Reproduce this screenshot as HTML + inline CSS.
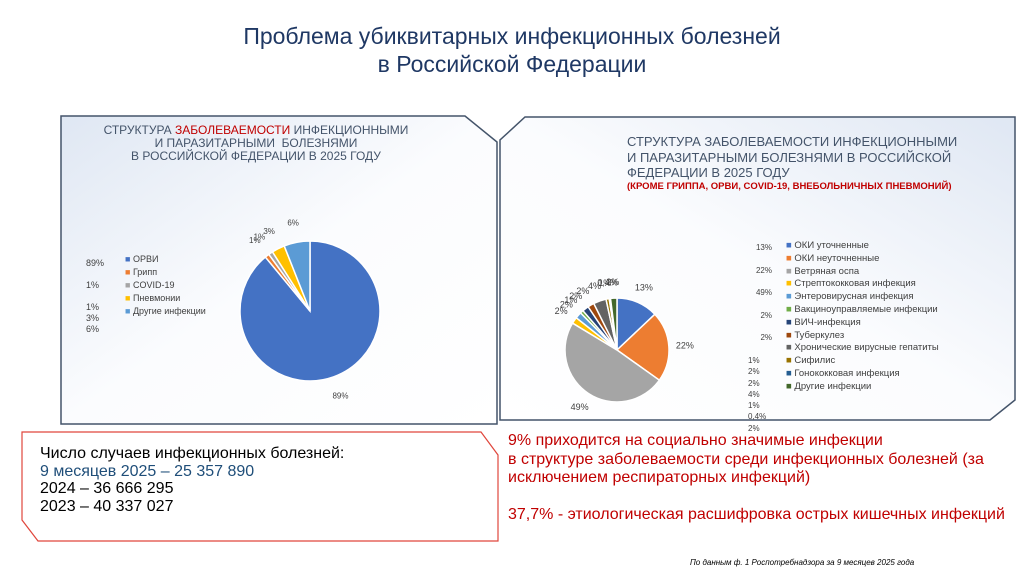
<!DOCTYPE html>
<html><head><meta charset="utf-8"><style>
body{margin:0;width:1024px;height:574px;background:#fff;position:relative;overflow:hidden;font-family:"Liberation Sans","DejaVu Sans",sans-serif}
.abs{position:absolute}
</style></head><body>
<div class="abs" style="left:0;width:1024px;top:22px;text-align:center;color:#1f3864;font-size:23px;line-height:28px">Проблема убиквитарных инфекционных болезней<br>в Российской Федерации</div>
<svg class="abs" style="left:0;top:0" width="1024" height="574">
<defs>
<linearGradient id="g1" x1="0" y1="0" x2="1" y2="1"><stop offset="0" stop-color="#dfe7f3"/><stop offset="0.5" stop-color="#fbfcfe"/><stop offset="1" stop-color="#ffffff"/></linearGradient>
<linearGradient id="g2" x1="1" y1="0" x2="0" y2="1"><stop offset="0" stop-color="#dfe7f3"/><stop offset="0.5" stop-color="#fbfcfe"/><stop offset="1" stop-color="#ffffff"/></linearGradient>
</defs>
<polygon points="61,116 465,116 497,142 497,424 61,424" fill="url(#g1)" stroke="#44546a" stroke-width="1.5"/>
<polygon points="525,117 1015,117 1015,400 990,420 500,420 500,140" fill="url(#g2)" stroke="#44546a" stroke-width="1.5"/>
<polygon points="22,432 481,432 498,455 498,541 38,541 22,520" fill="#fff" stroke="#e0463c" stroke-width="1.2"/>
<g id="pie1"></g><g id="pie2"></g>
</svg>
<div class="abs" style="left:61px;width:390px;top:124px;text-align:center;color:#44546a;font-size:12px;line-height:13px">СТРУКТУРА <span style="color:#c00000">ЗАБОЛЕВАЕМОСТИ</span> ИНФЕКЦИОННЫМИ<br>И ПАРАЗИТАРНЫМИ&nbsp; БОЛЕЗНЯМИ<br>В РОССИЙСКОЙ ФЕДЕРАЦИИ В 2025 ГОДУ</div>
<div class="abs" style="left:627px;top:134px;color:#44546a;font-size:13px;line-height:15.5px">СТРУКТУРА ЗАБОЛЕВАЕМОСТИ ИНФЕКЦИОННЫМИ<br>И ПАРАЗИТАРНЫМИ БОЛЕЗНЯМИ В РОССИЙСКОЙ<br>ФЕДЕРАЦИИ В 2025 ГОДУ<div style="color:#c00000;font-size:9.5px;font-weight:bold;line-height:11px">(КРОМЕ ГРИППА, ОРВИ, COVID-19, ВНЕБОЛЬНИЧНЫХ ПНЕВМОНИЙ)</div></div>
<div class="abs" id="leg1" style="left:85px;top:254px;font-size:9px;color:#404040"></div>
<div class="abs" id="leg2" style="left:740px;top:240px;font-size:9.5px;color:#404040"></div>
<div class="abs" style="left:40px;top:445px;font-size:16px;line-height:17.5px;color:#000">Число случаев инфекционных болезней:<br><span style="color:#1f4e79">9 месяцев 2025 – 25 357 890</span><br>2024 – 36 666 295<br>2023 – 40 337 027</div>
<div class="abs" style="left:508px;top:432px;font-size:16px;line-height:18.5px;color:#c00000;white-space:nowrap">9% приходится на социально значимые инфекции<br>в структуре заболеваемости среди инфекционных болезней (за<br>исключением респираторных инфекций)<br><br>37,7% - этиологическая расшифровка острых кишечных инфекций</div>
<div class="abs" style="left:690px;top:558px;font-size:8px;font-style:italic;color:#000">По данным ф. 1 Роспотребнадзора за 9 месяцев 2025 года</div>
<script>
const cats1=["ОРВИ","Грипп","COVID-19","Пневмонии","Другие инфекции"];
const vals1=[89,1,1,3,6];
const labels1=["89%","1%","1%","3%","6%"];
const cats2=["ОКИ уточненные","ОКИ неуточненные","Ветряная оспа","Стрептококковая инфекция","Энтеровирусная инфекция","Вакциноуправляемые инфекции","ВИЧ-инфекция","Туберкулез","Хронические вирусные гепатиты","Сифилис","Гонококковая инфекция","Другие инфекции"];
const vals2=[13,22,49,2,2,1,2,2,4,1,0.4,2];
const labels2=["13%","22%","49%","2%","2%","1%","2%","2%","4%","1%","0,4%","2%"];
const col1=["#4472c4","#ed7d31","#a5a5a5","#ffc000","#5b9bd5"];
const col2=["#4472c4","#ed7d31","#a5a5a5","#ffc000","#5b9bd5","#70ad47","#264478","#9e480e","#636363","#997300","#255e91","#43682b"];
const NS="http://www.w3.org/2000/svg";
function pie(gid,vals,cols,cx,cy,r,labels,lr,fs){
  const g=document.getElementById(gid);const tot=vals.reduce((a,b)=>a+b,0);let a=0;
  vals.forEach((v,i)=>{
    const a0=a/tot*2*Math.PI,a1=(a+v)/tot*2*Math.PI;a+=v;
    const x0=cx+r*Math.sin(a0),y0=cy-r*Math.cos(a0),x1=cx+r*Math.sin(a1),y1=cy-r*Math.cos(a1);
    const p=document.createElementNS(NS,"path");
    p.setAttribute("d",`M${cx},${cy}L${x0},${y0}A${r},${r} 0 ${a1-a0>Math.PI?1:0} 1 ${x1},${y1}Z`);
    p.setAttribute("fill",cols[i]);p.setAttribute("stroke","#fff");p.setAttribute("stroke-width","1.5");
    
    
    g.appendChild(p);
    const am=(a0+a1)/2;const t=document.createElementNS(NS,"text");
    t.setAttribute("x",cx+lr*Math.sin(am));t.setAttribute("y",cy-lr*Math.cos(am)+3);
    t.setAttribute("font-size",fs);t.setAttribute("fill","#404040");t.setAttribute("text-anchor","middle");
    t.setAttribute("font-family","Liberation Sans, sans-serif");t.textContent=labels[i];
    
    
    g.appendChild(t);
  });
}
pie("pie1",vals1,col1,310,311,70,labels1,90,8);
pie("pie2",vals2,col2,617,350,52,labels2,68,9);
function legend(id,cats,cols,pctGap,rowH){
  const el=document.getElementById(id);
  cats.forEach((c,i)=>{const d=document.createElement("div");
    d.style.cssText=`position:absolute;left:${pctGap}px;top:${i*rowH}px;white-space:nowrap`;
    d.innerHTML=`<span style="color:${cols[i]}">■</span> ${c}`;
    
    
    el.appendChild(d);});
}
legend("leg1",cats1,col1,40,13);
legend("leg2",cats2,col2,46,12.8);
const pc1=document.createElement("div");pc1.style.cssText="position:absolute;left:86px;top:258px;font-size:9px;color:#404040;line-height:11px";
pc1.innerHTML=labels1[0]+"<br><br>"+labels1[1]+"<br><br>"+labels1.slice(2).join("<br>");


document.body.appendChild(pc1);
const pc2=document.createElement("div");pc2.style.cssText="position:absolute;left:748px;top:242px;font-size:8px;color:#404040;line-height:11.3px";
pc2.innerHTML=labels2.slice(0,5).map(s=>"<div style='text-align:right;width:24px;height:22.6px'>"+s+"</div>").join("")+labels2.slice(5).join("<br>");


document.body.appendChild(pc2);
</script>
</body></html>
